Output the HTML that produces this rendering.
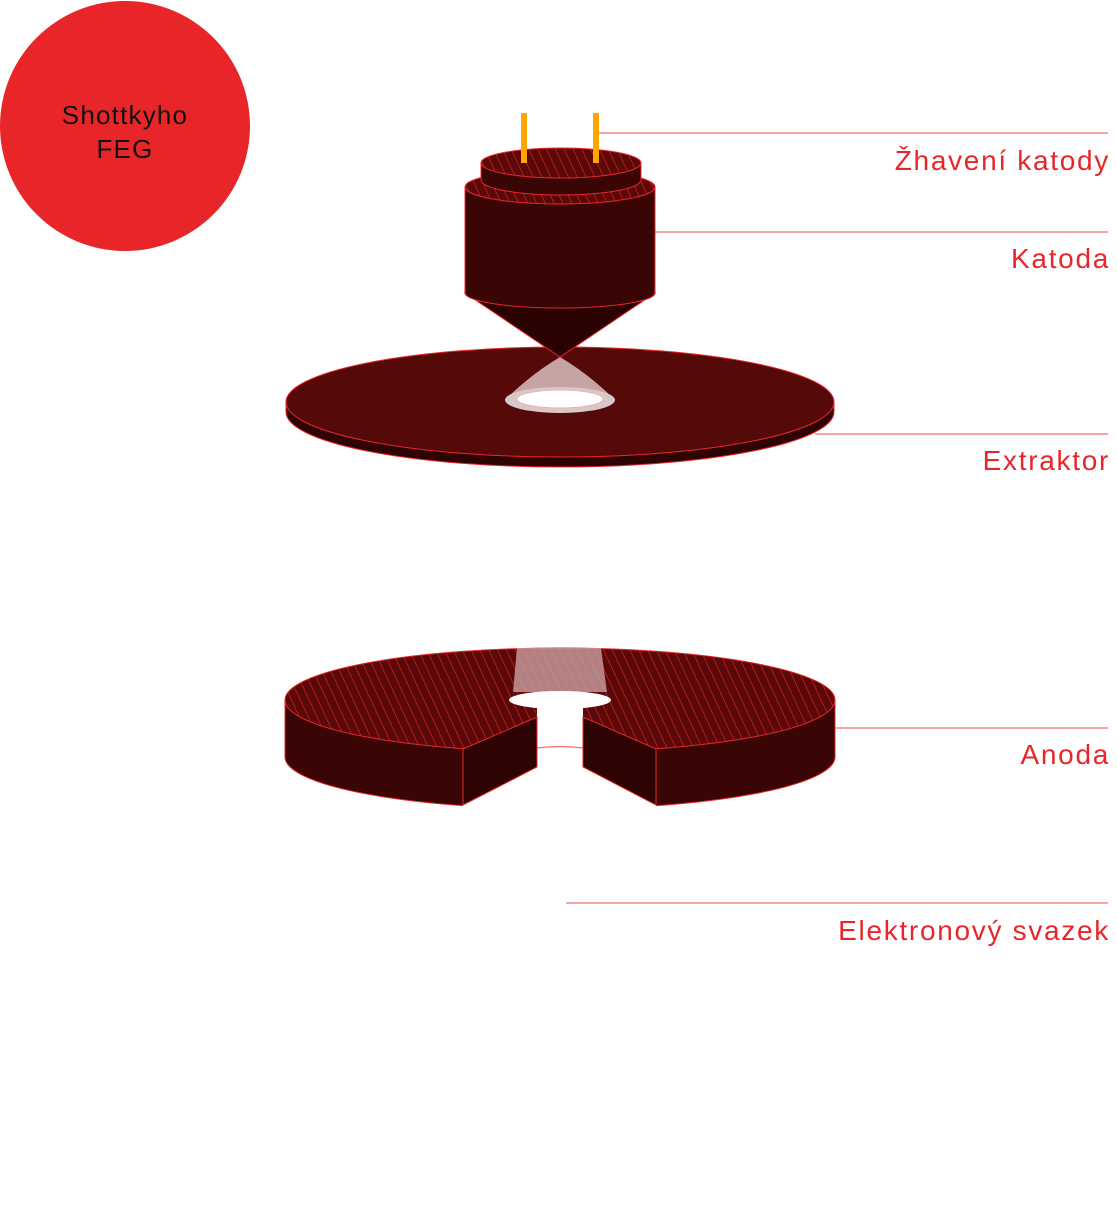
<!DOCTYPE html>
<html><head><meta charset="utf-8"><style>html,body{margin:0;padding:0;background:#fff}svg{display:block}</style></head><body>
<svg width="1117" height="1225" viewBox="0 0 1117 1225" xmlns="http://www.w3.org/2000/svg" font-family="Liberation Sans, sans-serif">
<defs>
<pattern id="h" width="8" height="8" patternUnits="userSpaceOnUse" patternTransform="rotate(-25)">
<rect width="8" height="8" fill="#5a0808"/><line x1="0" y1="0" x2="0" y2="8" stroke="#e8262a" stroke-width="1.2"/>
</pattern>
</defs>
<circle cx="125" cy="126" r="125" fill="#e8262a"/>
<text x="125" y="124" font-size="26" letter-spacing="1.2" text-anchor="middle" fill="#111">Shottkyho</text>
<text x="125" y="158" font-size="26" letter-spacing="1.2" text-anchor="middle" fill="#111">FEG</text>

<g stroke="#f07070" stroke-width="1.2">
<line x1="598" y1="133" x2="1108" y2="133"/>
<line x1="655" y1="232" x2="1108" y2="232"/>
<line x1="815" y1="434" x2="1108" y2="434"/>
<line x1="835" y1="728" x2="1108" y2="728"/>
<line x1="566" y1="903" x2="1108" y2="903"/>
</g>
<g fill="#e8262a" font-size="28" letter-spacing="1.7" text-anchor="end">
<text x="1110" y="170">Žhavení katody</text>
<text x="1110" y="268">Katoda</text>
<text x="1110" y="470">Extraktor</text>
<text x="1110" y="764">Anoda</text>
<text x="1110" y="940">Elektronový svazek</text>
</g>

<path d="M286 402 L286 412 A274 55 0 0 0 834 412 L834 402 Z" fill="#2e0303" stroke="#e8262a" stroke-width="1"/>
<ellipse cx="560" cy="402" rx="274" ry="55" fill="#560909" stroke="#e8262a" stroke-width="1"/>

<path d="M465 293 L560 357 L655 293 Z" fill="#2a0202" stroke="#e8262a" stroke-width="1"/>
<path d="M465 187 L465 293 A95 15 0 0 0 655 293 L655 187 Z" fill="#3a0505" stroke="#e8262a" stroke-width="1"/>
<ellipse cx="560" cy="187" rx="95" ry="17" fill="url(#h)" stroke="#e8262a" stroke-width="1"/>
<path d="M481 163 L481 180 A80 15 0 0 0 641 180 L641 163 Z" fill="#3a0505" stroke="#e8262a" stroke-width="1"/>
<ellipse cx="561" cy="163" rx="80" ry="15" fill="url(#h)" stroke="#e8262a" stroke-width="1"/>
<rect x="521" y="113" width="6" height="50" fill="#ffa500"/>
<rect x="593" y="113" width="6" height="50" fill="#ffa500"/>

<path d="M560 357 Q530 375 505 400 L615 400 Q590 375 560 357 Z" fill="#c6a4a4"/>
<ellipse cx="560" cy="400" rx="55" ry="13" fill="#d8c8c8"/>
<ellipse cx="560" cy="399" rx="43" ry="9" fill="#fff" stroke="#f5b0b0" stroke-width="1"/>

<path d="M285 700 L285 757 A275 52 0 0 0 835 757 L835 700 Z" fill="#3a0505" stroke="#e8262a" stroke-width="1"/>
<ellipse cx="560" cy="700" rx="275" ry="52" fill="url(#h)" stroke="#e8262a" stroke-width="1"/>
<path d="M517 648 L601 648 L607 692 L513 692 Z" fill="#c9a0a0" opacity="0.8"/>
<polygon points="537,700 537,717 463,749 463,812 656,812 656,749 583,717 583,700" fill="#fff"/>
<ellipse cx="560" cy="700" rx="51" ry="9" fill="#fff"/>
<path d="M537 748 Q560 745 583 748" fill="none" stroke="#f07070" stroke-width="1.2"/>
<polygon points="463,749 537,717 537,767 463,805" fill="#2e0303" stroke="#e8262a" stroke-width="1"/>
<polygon points="656,749 583,717 583,767 656,805" fill="#2e0303" stroke="#e8262a" stroke-width="1"/>
</svg>
</body></html>
